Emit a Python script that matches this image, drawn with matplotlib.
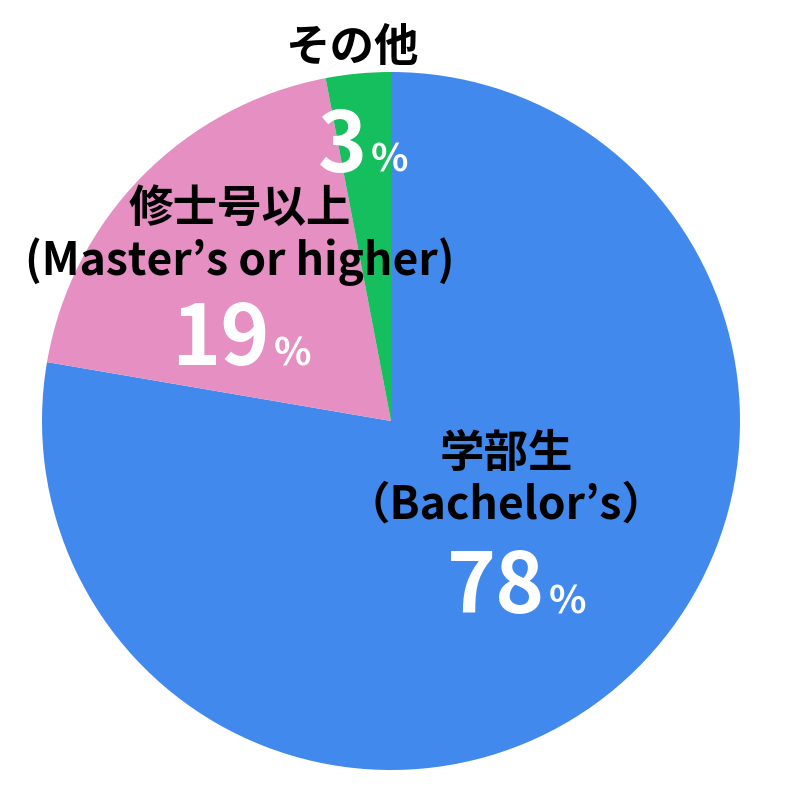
import matplotlib.pyplot as plt

plt.rcParams['font.family'] = ['Noto Sans CJK JP', 'DejaVu Sans']

# data
labels = ['学部生\n（Bachelor’s）', '修士号以上\n(Master’s or higher)', 'その他']
shares = [77.7, 19.3, 3.0]
colors = ['#4289ED', '#E58FC2', '#16BF5E']

fig = plt.figure(figsize=(8, 8), dpi=100)
ax = fig.add_axes([42 / 800, 30 / 800, 698 / 800, 698 / 800])

ax.pie(shares, colors=colors, startangle=90, counterclock=False,
       wedgeprops=dict(linewidth=0))
ax.set_xlim(-1, 1)
ax.set_ylim(-1, 1)
ax.set_aspect('equal')
ax.axis('off')


def px(x, y):
    # pixel (from top-left) -> data coords of the pie axes
    return (x - 391) / 349, (421 - y) / 349


# category label positions (center, px) and number anchors (px)
label_pos = [(506, 480), (240, 236), (352, 48)]
num_pos = [(545, 613), (270, 365), (367, 172)]

for lab, (lx, ly) in zip(labels, label_pos):
    x, y = px(lx, ly)
    ax.text(x, y, lab, ha='center', va='center', fontsize=32,
            fontweight='bold', color='black', linespacing=1.15)

for v, (nx, ny) in zip(shares, num_pos):
    x, y = px(nx, ny)
    ax.text(x, y, str(round(v)), ha='right', va='baseline', fontsize=60,
            fontweight='bold', color='white')
    ax.text(x + 4 / 349, y, '%', ha='left', va='baseline', fontsize=28,
            fontweight='bold', color='white')

fig.savefig('out.png', dpi=100)
